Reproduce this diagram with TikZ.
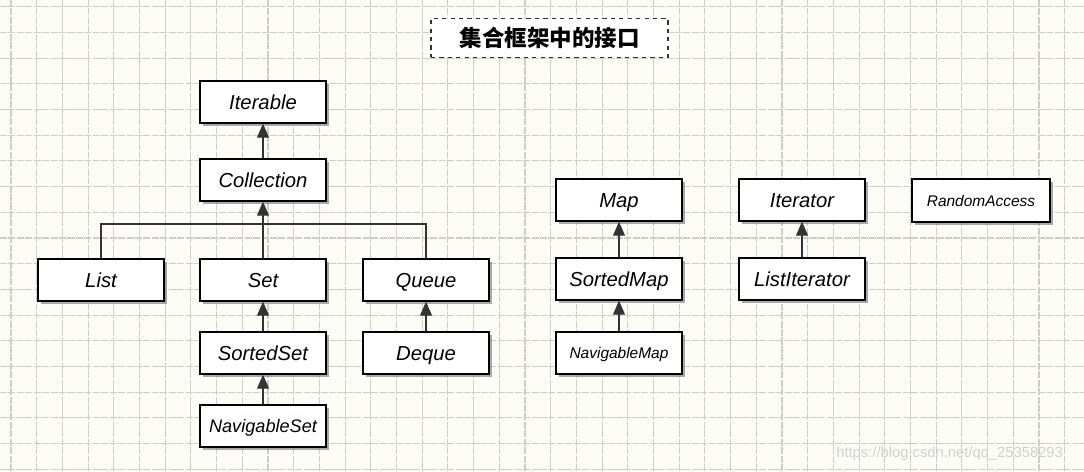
\documentclass[tikz,border=0pt]{standalone}
\usepackage{fontspec}
\setmainfont{Liberation Sans}
\newfontfamily\cjk{Noto Sans CJK SC}
\usetikzlibrary{arrows.meta, shadows, positioning}
\definecolor{paper}{HTML}{FDFCF6}
\definecolor{gridgray}{HTML}{CDCDC9}
\definecolor{linkgray}{HTML}{333333}
\tikzset{
    iface/.style={draw=black, line width=0.9pt, fill=white, inner sep=0pt,
        minimum width=89.6pt, minimum height=29.9pt, text height=10.3pt, text depth=0pt,
        font=\itshape\fontsize{14.4}{16}\selectfont,
        drop shadow={shadow xshift=2pt, shadow yshift=-2pt, fill=black!55, opacity=0.6}},
    smallface/.style={iface, text height=7.9pt, font=\itshape\fontsize{11}{13}\selectfont},
    link/.style={draw=linkgray, line width=0.8pt},
    inherit/.style={link, -{Triangle[length=10pt, width=8.5pt]}},
    gridline/.style={draw=gridgray, line width=0.8pt, dash pattern=on 5pt off 1pt}
}

\begin{document}
\begin{tikzpicture}[x=0.025cm, y=-0.025cm]
    \fill[paper] (0,0) rectangle (1084,472);
    \useasboundingbox (0,0) rectangle (1084,472);
    % background grid
    \foreach \i in {0,...,41}
        \draw[gridline] (11+25.7*\i,0) -- (11+25.7*\i,472);
    \foreach \i in {0,...,18}
        \draw[gridline] (0,6.7+25.7*\i) -- (1084,6.7+25.7*\i);

    % title
    \node[draw=black!80, dashed, line width=0.8pt, fill=white, minimum width=168.6pt, minimum height=27.7pt,
        font=\cjk\bfseries\fontsize{16}{18}\selectfont] (title) at (549.5,38) {集合框架中的接口};

    % collection interfaces
    \node[iface] (iterable) at (263,102) {Iterable};
    \node[iface] (collection) at (263,180) {Collection};
    \node[iface] (list) at (101,280) {List};
    \node[iface] (set) at (263,280) {Set};
    \node[iface] (queue) at (426,280) {Queue};
    \node[iface] (sortedset) at (263,353) {SortedSet};
    \node[iface] (deque) at (426,353) {Deque};
    \node[iface, text height=9.3pt, font=\itshape\fontsize{12.9}{15}\selectfont] (navset) at (263,426) {NavigableSet};

    % map interfaces
    \node[iface] (map) at (619,200) {Map};
    \node[iface] (sortedmap) at (619,279) {SortedMap};
    \node[smallface] (navmap) at (619,353) {NavigableMap};

    % iterators
    \node[iface] (iterator) at (802,200) {Iterator};
    \node[iface] (listiter) at (802,279) {ListIterator};
    \node[smallface, minimum width=98.2pt, minimum height=30.6pt] (randomaccess) at (981,200.5) {RandomAccess};

    \coordinate (join) at (263,224);

    \draw[inherit] (collection) -- (iterable);
    \draw[link] (list.north) |- (join) -| (queue.north);
    \draw[inherit] (set) -- (collection);
    \draw[inherit] (sortedset) -- (set);
    \draw[inherit] (navset) -- (sortedset);
    \draw[inherit] (deque) -- (queue);
    \draw[inherit] (sortedmap) -- (map);
    \draw[inherit] (navmap) -- (sortedmap);
    \draw[inherit] (listiter) -- (iterator);

    % watermark
    \node[text=black!18, font=\fontsize{10.5}{12}\selectfont, anchor=west, inner sep=0pt] (mark) at (836,454) {https://blog.csdn.net/qq\_25358293};
\end{tikzpicture}
\end{document}
